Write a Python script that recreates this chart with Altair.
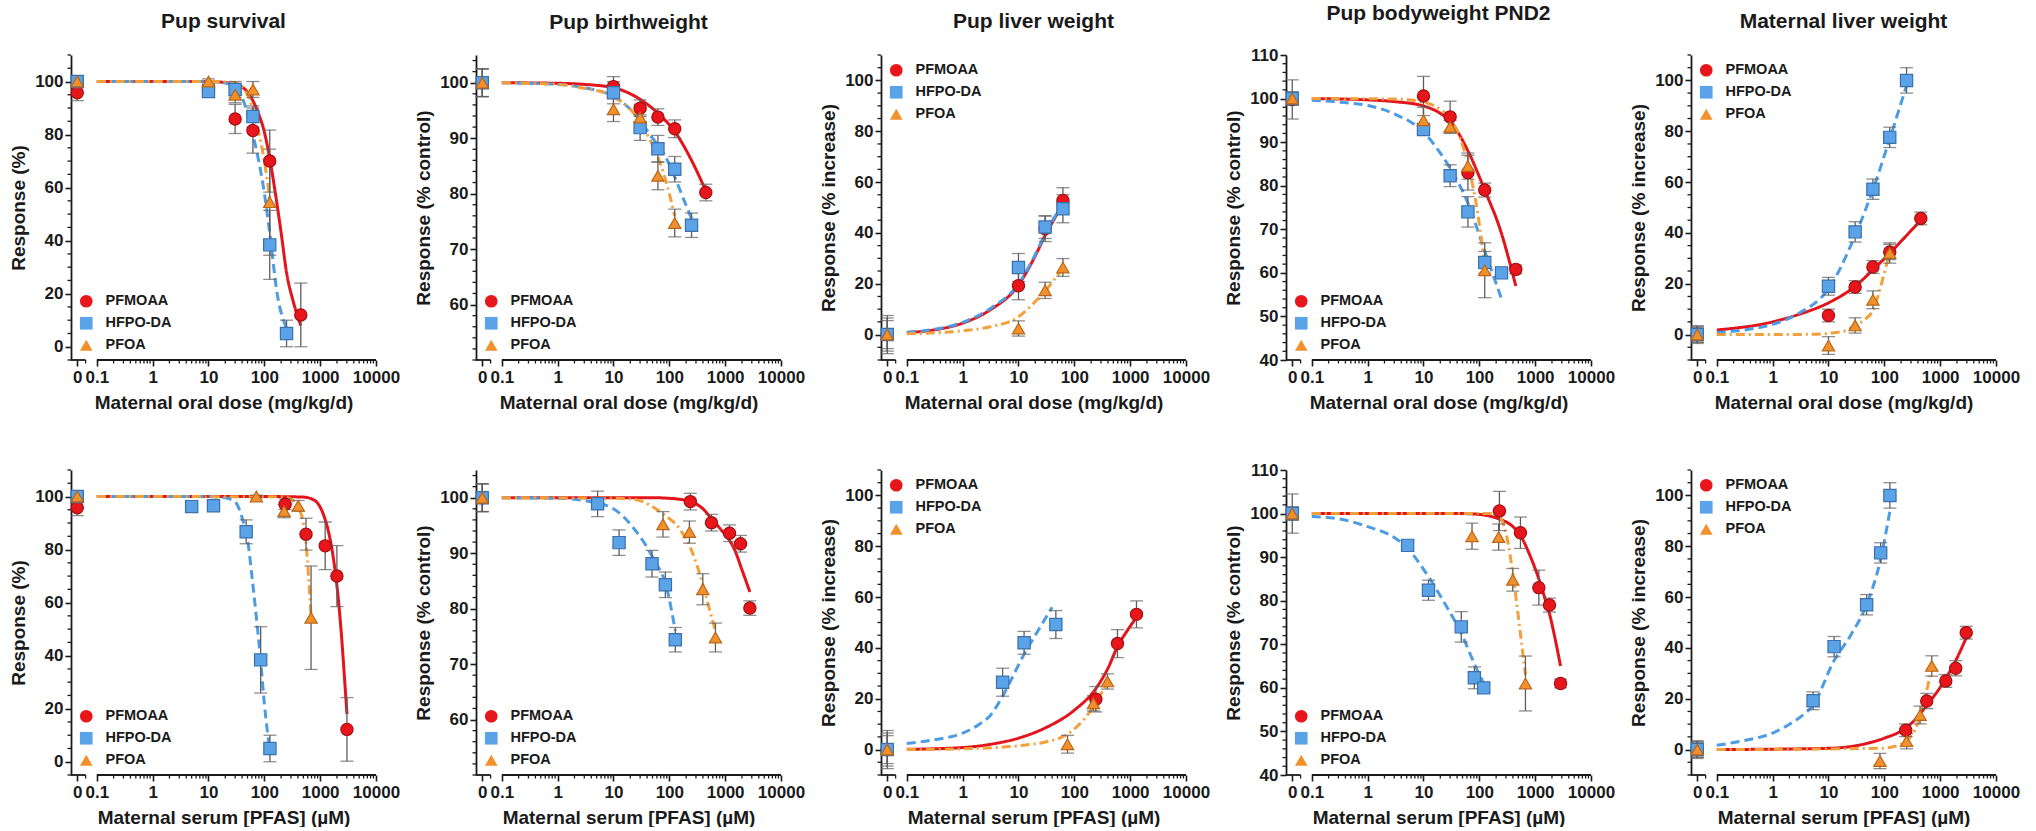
import altair as alt
import numpy as np
import pandas as pd

FONT = "Liberation Sans"
INK = "#1a1a1a"
ERR_COLOR = "#5e5e5e"

COMPOUNDS = ["PFMOAA", "HFPO-DA", "PFOA"]
FILL_COLORS = ["#E8161B", "#5BA3E8", "#F2912B"]
EDGE_COLORS = ["#A01014", "#3B70AA", "#B8661A"]
LINE_COLORS = ["#E3141B", "#4D9BE3", "#F3A03A"]
DASHES = [[1, 0], [9, 5], [9, 4, 2, 4]]
SHAPES = ["circle", "square", "triangle-up"]

TITLES = ["Pup survival", "Pup birthweight", "Pup liver weight",
          "Pup bodyweight PND2", "Maternal liver weight"]
Y_TITLES = ["Response (%)", "Response (% control)", "Response (% increase)",
            "Response (% control)", "Response (% increase)"]
X_TITLES = ["Maternal oral dose (mg/kg/d)", "Maternal serum [PFAS] (µM)"]
Y_DOMAINS = [[-5, 110], [50, 105], [-10, 110], [40, 110], [-10, 110]]
Y_MAJOR = [[0, 20, 40, 60, 80, 100], [60, 70, 80, 90, 100], [0, 20, 40, 60, 80, 100],
           [40, 50, 60, 70, 80, 90, 100, 110], [0, 20, 40, 60, 80, 100]]
Y_MINOR_STEP = [5, 2, 5, 2, 5]
LEGEND_ORIENT = ["bottom-left", "bottom-left", "top-left", "bottom-left", "top-left"]

# x tick values (dose / concentration); 0 = control group on the broken segment
X_TICK_VALUES = [0, 0.1, 1, 10, 100, 1000, 10000]
X_MINOR_VALUES = [0.2, 0.3, 0.4, 0.5, 0.6, 0.7, 0.8, 0.9,
                  2, 3, 4, 5, 6, 7, 8, 9,
                  20, 30, 40, 50, 60, 70, 80, 90,
                  200, 300, 400, 500, 600, 700, 800, 900,
                  2000, 3000, 4000, 5000, 6000, 7000, 8000, 9000]

# ---------------- data: {compound: (dose, mean, error)} ----------------
SURV_ORAL = {
    "PFMOAA": ([0, 10, 30, 62.5, 125, 450], [95.8, 96.9, 85.9, 81.5, 70.0, 12.0], [3, 2, 5.5, 8.5, 11.7, 12]),
    "HFPO-DA": ([0, 10, 30, 62.5, 125, 250], [100, 96.2, 97.0, 86.8, 38.4, 5.0], [1, 2, 3, 4, 13, 5]),
    "PFOA": ([0, 10, 30, 62.5, 125], [100, 100, 95.0, 97.0, 54.5], [1, 1, 3, 3, 20]),
}
BW_ORAL = {
    "PFMOAA": ([0, 10, 30, 62.5, 125, 450], [100, 99.3, 95.4, 93.8, 91.7, 80.2], [2.5, 1.8, 1.5, 1.5, 1.6, 1.5]),
    "HFPO-DA": ([0, 10, 30, 62.5, 125, 250], [100, 98.2, 91.9, 88.1, 84.4, 74.3], [2.5, 2, 2.3, 2.4, 2.3, 2.2]),
    "PFOA": ([0, 10, 30, 62.5, 125], [100, 95.2, 93.7, 83.2, 74.7], [2.5, 2.2, 2.4, 2.5, 2.5]),
}
LIVER_ORAL = {
    "PFMOAA": ([0, 10, 30, 62.5], [0, 19.2, 41.6, 52.8], [6.5, 5.5, 5, 5]),
    "HFPO-DA": ([0, 10, 30, 62.5], [0, 26.4, 42.3, 49.5], [7.5, 5.5, 4.5, 5.5]),
    "PFOA": ([0, 10, 30, 62.5], [0, 2.4, 17.4, 26.4], [5.5, 3, 3.2, 3.5]),
}
PND2_ORAL = {
    "PFMOAA": ([0, 10, 30, 62.5, 125, 450], [99.8, 100.6, 95.8, 83.0, 79.0, 60.8], [4.5, 4.5, 3.6, 4, 1.6, 1]),
    "HFPO-DA": ([0, 10, 30, 62.5, 125, 250], [100, 92.9, 82.3, 74.0, 62.4, 60.0], [1.5, 1, 2.5, 3.5, 2.5, 1]),
    "PFOA": ([0, 10, 30, 62.5, 125], [100, 95.0, 93.5, 84.5, 60.6], [1.5, 3, 1.5, 3, 6.3]),
}
MLIVER_ORAL = {
    "PFMOAA": ([0, 10, 30, 62.5, 125, 450], [0, 7.5, 18.7, 26.6, 32.5, 45.7], [3, 2.5, 2.5, 2.5, 3, 2.5]),
    "HFPO-DA": ([0, 10, 30, 62.5, 125, 250], [0, 19.0, 40.4, 57.2, 77.6, 100], [3.5, 3.5, 4, 4, 4, 5]),
    "PFOA": ([0, 10, 30, 62.5, 125], [0, -4.3, 3.6, 13.7, 32.1], [3, 3.5, 3, 3.5, 4]),
}
SURV_SERUM = {
    "PFMOAA": ([0, 236, 558, 1230, 1995, 3020], [95.8, 97.1, 85.8, 81.4, 70.0, 12.2], [3, 2, 6, 9, 11.5, 12]),
    "HFPO-DA": ([0, 5.0, 12.3, 47.3, 86, 126], [100, 96.2, 96.5, 86.7, 38.4, 5.0], [1, 1, 1, 4.5, 12.5, 5]),
    "PFOA": ([0, 72, 226, 405, 687], [100, 100, 94.5, 96.5, 54.3], [1, 0.5, 2.5, 2, 19.5]),
}
BW_SERUM = {
    "PFMOAA": ([0, 238, 568, 1197, 1885, 2770], [100, 99.3, 95.5, 93.6, 91.7, 80.1], [2.5, 1.5, 1.5, 1.5, 1.5, 1.3]),
    "HFPO-DA": ([0, 5.2, 12.6, 49, 85, 128], [100, 98.9, 91.9, 88.1, 84.3, 74.4], [2.5, 2.3, 2.3, 2.4, 2.3, 2.2]),
    "PFOA": ([0, 77, 229, 398, 670], [100, 95.2, 93.8, 83.5, 74.8], [2.5, 2.3, 2, 2.8, 2.6]),
}
LIVER_SERUM = {
    "PFMOAA": ([0, 243, 593, 1298], [0, 19.8, 41.7, 53.2], [6.5, 5, 5.5, 5.3]),
    "HFPO-DA": ([0, 5.2, 12.6, 46.7], [0, 26.5, 42.0, 49.2], [7.5, 5.5, 4.5, 5.5]),
    "PFOA": ([0, 75.5, 220, 393], [0, 2.1, 18.2, 26.8], [5.5, 3.5, 3, 3]),
}
PND2_SERUM = {
    "PFMOAA": ([0, 229, 545, 1164, 1807, 2850], [100, 100.6, 95.6, 83.0, 79.0, 61.0], [4.5, 4.5, 3.6, 4, 1.6, 1]),
    "HFPO-DA": ([0, 5.2, 12.3, 47.5, 81.5, 120], [100, 92.7, 82.4, 74.0, 62.3, 60.0], [1.5, 1, 2.3, 3.5, 2.5, 1]),
    "PFOA": ([0, 74, 222, 397, 670], [100, 94.8, 94.6, 84.8, 61.0], [1.5, 3, 3, 2.6, 6.3]),
}
MLIVER_SERUM = {
    "PFMOAA": ([0, 242, 575, 1260, 1900, 2930], [0, 7.6, 19.1, 27.0, 32.0, 46.0], [3, 2.5, 3, 2.5, 3, 2.5]),
    "HFPO-DA": ([0, 5.3, 12.6, 48.2, 86, 126], [0, 19.2, 40.5, 57.0, 77.4, 100], [3.5, 3.5, 4, 4, 4, 5]),
    "PFOA": ([0, 83.6, 251, 437, 708], [0, -4.5, 3.3, 13.6, 32.9], [3, 3, 3, 3.5, 4]),
}

# ---------------- fitted curves: {compound: (x, y)} ----------------
SURV_ORAL_FIT = {
    "PFMOAA": ([0.1, 10, 30, 50, 75, 100, 125, 160, 200, 250, 330, 450], [100, 100, 99, 96, 89, 81, 71, 57, 43, 28, 17, 8]),
    "HFPO-DA": ([0.1, 10, 25, 40, 62.5, 100, 125, 170, 250], [100, 100, 99, 94, 80, 58, 43, 20, 7]),
    "PFOA": ([0.1, 10, 30, 50, 75, 100, 125], [100, 100, 99.5, 95, 83, 70, 56]),
}
BW_ORAL_FIT = {
    "PFMOAA": ([0.1, 1, 3, 10, 30, 62.5, 125, 250, 450], [100, 99.9, 99.7, 99.1, 97, 94.5, 91.2, 86, 80.5]),
    "HFPO-DA": ([0.1, 1, 3, 10, 23, 50, 80, 125, 180, 250], [100, 99.7, 99.1, 97.5, 94.6, 90, 87.2, 83, 79, 75.5]),
    "PFOA": ([0.1, 1, 3, 10, 23, 46, 80, 125], [100, 99.7, 99, 97.5, 94.5, 89.5, 83.5, 76]),
}
LIVER_ORAL_FIT = {
    "PFMOAA": ([0.1, 0.3, 1, 3, 10, 20, 30, 45, 62.5], [0.8, 1.8, 4.5, 9.5, 19.5, 31, 39, 46, 51.5]),
    "HFPO-DA": ([0.1, 0.3, 1, 3, 10, 20, 30, 45, 62.5], [0.9, 2, 4.8, 10, 20, 31.5, 39.5, 46.5, 51]),
    "PFOA": ([0.1, 1, 3, 10, 20, 30, 45, 62.5], [0.3, 1.5, 3, 7, 13, 17, 22, 26]),
}
PND2_ORAL_FIT = {
    "PFMOAA": ([0.1, 1, 3, 10, 20, 30, 62.5, 125, 250, 340, 450], [100, 99.7, 99.3, 98.3, 96.6, 94.8, 88, 79, 69, 63, 57]),
    "HFPO-DA": ([0.1, 0.3, 1, 3, 10, 20, 30, 62.5, 125, 250], [99.6, 99.2, 98.4, 96.5, 92.3, 87.5, 84, 76, 65, 54]),
    "PFOA": ([0.1, 3, 10, 20, 30, 45, 62.5, 90, 125], [100, 99.9, 99.2, 97.5, 95.5, 91, 85, 75, 62]),
}
MLIVER_ORAL_FIT = {
    "PFMOAA": ([0.1, 1, 3, 10, 30, 62.5, 125, 250, 450], [1.8, 5, 8, 12.5, 19, 25.5, 32, 39, 45]),
    "HFPO-DA": ([0.1, 0.3, 1, 2, 3, 10, 30, 62.5, 125, 250], [0.8, 1.8, 4, 6.5, 8.5, 18, 39, 57, 77, 98]),
    "PFOA": ([0.1, 5, 10, 20, 30, 45, 62.5, 89, 105, 125], [0, 0.1, 0.5, 1.5, 3.5, 6, 9.5, 20, 26, 32]),
}
SURV_SERUM_FIT = {
    "PFMOAA": ([0.1, 100, 500, 800, 1000, 1200, 1400, 1600, 1800, 2100, 2400, 2700, 3020],
               [100, 100, 99.8, 98.5, 96, 92, 87, 81, 74, 62, 48, 33, 18]),
    "HFPO-DA": ([0.1, 10, 20, 30, 40, 50, 60, 70, 86, 100, 126], [100, 100, 99.5, 98, 92, 84, 70, 57, 38, 22, 4]),
    "PFOA": ([0.1, 200, 300, 400, 500, 560, 620, 687], [100, 99.9, 99, 96, 90, 82, 70, 55]),
}
BW_SERUM_FIT = {
    "PFMOAA": ([0.1, 50, 100, 238, 400, 560, 800, 1200, 1450, 2000, 2770], [100, 100, 99.9, 99.3, 98, 96.3, 94.5, 92.3, 90.8, 87, 83]),
    "HFPO-DA": ([0.1, 1, 3, 10, 23, 52, 91, 128], [100, 99.9, 99.5, 98, 94.5, 89, 83.5, 76]),
    "PFOA": ([0.1, 10, 23, 79, 150, 238, 390, 520, 670], [100, 99.9, 99.7, 97, 94.5, 91, 84.7, 80, 76]),
}
LIVER_SERUM_FIT = {
    "PFMOAA": ([0.1, 1, 3, 10, 30, 100, 243, 400, 593, 900, 1298], [0.1, 0.8, 2, 4.5, 8.5, 15.5, 24, 32, 40.5, 47, 52]),
    "HFPO-DA": ([0.1, 0.3, 1, 2, 3, 5.2, 8, 12.6, 20, 40], [2.4, 3.8, 6.5, 10, 13, 21, 29, 37.5, 45, 56]),
    "PFOA": ([0.1, 1, 10, 30, 75, 150, 220, 300, 393], [0, 0.3, 1.5, 3, 6, 12, 17, 22, 26]),
}
PND2_SERUM_FIT = {
    "PFMOAA": ([0.1, 50, 100, 222, 400, 545, 800, 1164, 1500, 1807, 2300, 2850],
               [100, 100, 99.8, 98.8, 97, 95, 90.5, 85, 80.5, 77, 71, 65]),
    "HFPO-DA": ([0.1, 0.3, 1, 3, 5.2, 12.3, 25, 47.5, 85, 120], [99.3, 98.8, 97, 94.5, 92, 85.5, 79, 72.5, 65, 61]),
    "PFOA": ([0.1, 150, 220, 280, 330, 390, 440, 550, 670], [100, 100, 99.5, 97, 93, 87, 82, 72, 63]),
}
MLIVER_SERUM_FIT = {
    "PFMOAA": ([0.1, 10, 50, 100, 242, 400, 575, 900, 1260, 1900, 2930], [0, 0.5, 2.5, 4.5, 8.5, 13, 17.5, 23, 28, 35, 44]),
    "HFPO-DA": ([0.1, 0.3, 1, 2, 3, 5.3, 12.6, 25, 48, 86, 126], [1.7, 3.5, 6.5, 10, 12.5, 17.5, 35, 45, 57, 75, 94]),
    "PFOA": ([0.1, 84, 150, 251, 350, 437, 520, 600, 708], [0, 0.5, 1.2, 3.5, 7.5, 13, 19, 25, 32]),
}

ROW_DATA = [[SURV_ORAL, BW_ORAL, LIVER_ORAL, PND2_ORAL, MLIVER_ORAL],
            [SURV_SERUM, BW_SERUM, LIVER_SERUM, PND2_SERUM, MLIVER_SERUM]]
ROW_FITS = [[SURV_ORAL_FIT, BW_ORAL_FIT, LIVER_ORAL_FIT, PND2_ORAL_FIT, MLIVER_ORAL_FIT],
            [SURV_SERUM_FIT, BW_SERUM_FIT, LIVER_SERUM_FIT, PND2_SERUM_FIT, MLIVER_SERUM_FIT]]

# ---------------- broken log axis geometry (in log10 units) ----------------
CTRL = -1.35          # where the control group (dose 0) sits
X_LEFT, X_RIGHT = -1.462, 4.0
SEG_END = -1.2        # end of the short control segment
W = H = 305
POS_EXPR = f"datum.dose == 0 ? {CTRL} : log(datum.dose) / LN10"


def build_points(data):
    rows = []
    for c in COMPOUNDS:
        doses, means, errs = data[c]
        for d, m, e in zip(doses, means, errs):
            rows.append({"compound": c, "dose": d, "mean": m, "lo": m - e, "hi": m + e})
    return pd.DataFrame(rows)


def build_fit(fits):
    rows = []
    for c in COMPOUNDS:
        xs, ys = fits[c]
        for x, y in zip(xs, ys):
            rows.append({"compound": c, "dose": x, "resp": y})
    return pd.DataFrame(rows)


def tick_pos(v):
    return CTRL if v == 0 else float(np.log10(v))


def panel(i, row):
    pts = build_points(ROW_DATA[row][i])
    fit = build_fit(ROW_FITS[row][i])
    ydom = Y_DOMAINS[i]

    xs = alt.Scale(domain=[X_LEFT, X_RIGHT], nice=False, zero=False)
    ys = alt.Scale(domain=ydom, nice=False, zero=False)
    xaxis = alt.Axis(
        title=X_TITLES[row], values=[tick_pos(v) for v in X_TICK_VALUES],
        labelExpr="datum.value < -1.1 ? '0' : (datum.value == -1 ? '0.1' : format(pow(10, datum.value), 'd'))",
        domain=False, ticks=True, tickSize=6, tickWidth=1.6, tickColor=INK,
        labelFont=FONT, labelFontSize=17, labelFontWeight="bold", labelColor=INK, labelPadding=3,
        labelFlush=False, labelOverlap=False, grid=False,
        titleFont=FONT, titleFontSize=19, titleFontWeight="bold", titleColor=INK, titlePadding=8)
    yaxis = alt.Axis(
        title=Y_TITLES[i], values=Y_MAJOR[i], domain=True, domainColor=INK, domainWidth=1.8,
        ticks=True, tickSize=6, tickWidth=1.6, tickColor=INK,
        labelFont=FONT, labelFontSize=17, labelFontWeight="bold", labelColor=INK, labelPadding=2,
        grid=False, titleFont=FONT, titleFontSize=19, titleFontWeight="bold", titleColor=INK, titlePadding=6)

    seg_df = pd.DataFrame({"x1": [X_LEFT, -1.0], "x2": [SEG_END, 4.0]})
    xminor_df = pd.DataFrame({"pos": [float(np.log10(v)) for v in X_MINOR_VALUES] + [SEG_END]})
    step = Y_MINOR_STEP[i]
    yvals = np.arange(np.ceil(ydom[0] / step) * step, ydom[1] + 1e-9, step)
    yminor_df = pd.DataFrame({"v": [float(v) for v in yvals if not any(abs(v - m) < 1e-9 for m in Y_MAJOR[i])]})

    segs = alt.Chart(seg_df).mark_rule(color=INK, strokeWidth=1.8).encode(
        x=alt.X("x1:Q", scale=xs, axis=xaxis), x2="x2:Q", y=alt.value(H))
    xminor = alt.Chart(xminor_df).mark_rule(color=INK, strokeWidth=1.3).encode(
        x=alt.X("pos:Q", scale=xs, axis=xaxis), y=alt.value(H), y2=alt.value(H + 3.5))
    yminor = alt.Chart(yminor_df).mark_rule(color=INK, strokeWidth=1.3).encode(
        y=alt.Y("v:Q", scale=ys, axis=yaxis), x=alt.value(0), x2=alt.value(-3.5))

    curves = []
    for c, col, dash in zip(COMPOUNDS, LINE_COLORS, DASHES):
        curves.append(
            alt.Chart(fit).transform_filter(alt.datum.compound == c)
            .transform_calculate(pos=POS_EXPR)
            .mark_line(color=col, strokeDash=dash, strokeWidth=3, interpolate="monotone")
            .encode(x=alt.X("pos:Q", scale=xs, axis=xaxis), y=alt.Y("resp:Q", scale=ys, axis=yaxis)))

    base = alt.Chart(pts).transform_calculate(pos=POS_EXPR)
    errs = base.mark_rule(color=ERR_COLOR, strokeWidth=1.3).encode(
        x=alt.X("pos:Q", scale=xs, axis=xaxis), y=alt.Y("lo:Q", scale=ys, axis=yaxis), y2="hi:Q")
    caps = base.transform_fold(["lo", "hi"], as_=["end", "yv"]).mark_tick(
        orient="horizontal", size=13, thickness=1.3, color=ERR_COLOR).encode(
        x=alt.X("pos:Q", scale=xs, axis=xaxis), y=alt.Y("yv:Q", scale=ys, axis=yaxis))

    leg = alt.Legend(orient=LEGEND_ORIENT[i], title=None, offset=8, padding=0,
                     labelFont=FONT, labelFontSize=14.5, labelFontWeight="bold", labelColor=INK,
                     symbolSize=160, symbolStrokeWidth=0, rowPadding=7, labelOffset=12)
    points = base.mark_point(filled=True, size=150, strokeWidth=1.2, opacity=1).encode(
        x=alt.X("pos:Q", scale=xs, axis=xaxis),
        y=alt.Y("mean:Q", scale=ys, axis=yaxis),
        color=alt.Color("compound:N", scale=alt.Scale(domain=COMPOUNDS, range=FILL_COLORS), legend=leg),
        shape=alt.Shape("compound:N", scale=alt.Scale(domain=COMPOUNDS, range=SHAPES), legend=leg),
        stroke=alt.Stroke("compound:N", scale=alt.Scale(domain=COMPOUNDS, range=EDGE_COLORS), legend=None),
    )

    ch = alt.layer(segs, xminor, yminor, *curves, errs, caps, points).properties(width=W, height=H)
    if row == 0:
        ch = ch.properties(title=alt.TitleParams(TITLES[i], font=FONT, fontSize=21, fontWeight="bold",
                                                 color=INK, anchor="middle", offset=22, frame="group"))
    return ch


panels = [panel(i, r) for r in range(2) for i in range(5)]
chart = alt.concat(*panels, columns=5, spacing={"row": 110, "column": 100}, bounds="flush").resolve_scale(
    color="independent", shape="independent", stroke="independent").resolve_legend(
    color="independent", shape="independent", stroke="independent").properties(
    padding={"left": 9, "top": 3, "right": 5, "bottom": 0}, background="white"
).configure_view(stroke=None)

chart.save("out.html", embed_options={"renderer": "svg", "actions": False})
